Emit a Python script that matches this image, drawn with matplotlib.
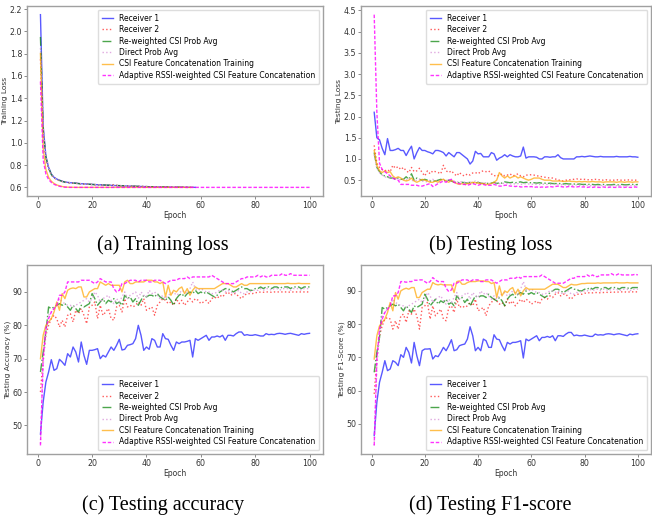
import numpy as np
import matplotlib
matplotlib.use("Agg")
import matplotlib.pyplot as plt

labels = ["Receiver 1", "Receiver 2", "Re-weighted CSI Prob Avg", "Direct Prob Avg",
          "CSI Feature Concatenation Training", "Adaptive RSSI-weighted CSI Feature Concatenation"]

# training loss (most runs stop early)
tr_r1 = [2.15, 1.15, 0.88, 0.78, 0.72, 0.69, 0.675, 0.665, 0.655, 0.648,
         0.645, 0.642, 0.640, 0.638, 0.635, 0.633, 0.632, 0.630, 0.628, 0.627,
         0.625, 0.624, 0.623, 0.622, 0.620, 0.619, 0.618, 0.617, 0.616, 0.615,
         0.614, 0.613, 0.612, 0.611, 0.610, 0.610, 0.609, 0.608, 0.607, 0.607,
         0.606, 0.606, 0.605, 0.605, 0.604, 0.604, 0.603, 0.603, 0.603, 0.602,
         0.602, 0.602, 0.601, 0.601, 0.601, 0.601, 0.601, 0.600]
tr_r2 = [1.75, 1.10, 0.86, 0.77, 0.71, 0.685, 0.670, 0.660, 0.652, 0.646,
         0.643, 0.640, 0.638, 0.636, 0.634, 0.632, 0.630, 0.629, 0.627, 0.626,
         0.625, 0.624, 0.622, 0.621, 0.620, 0.619, 0.620, 0.625, 0.618, 0.616,
         0.615, 0.614, 0.613, 0.612, 0.611, 0.610, 0.609, 0.608, 0.608, 0.607,
         0.606, 0.606, 0.605, 0.605, 0.604, 0.604, 0.603, 0.603, 0.602, 0.602,
         0.602, 0.601, 0.601, 0.601, 0.601, 0.600, 0.600]
tr_rw = [1.95, 1.12, 0.87, 0.775, 0.715, 0.688, 0.672, 0.662, 0.654, 0.647,
         0.644, 0.641, 0.639, 0.637, 0.634, 0.632, 0.631, 0.629, 0.628, 0.626,
         0.625, 0.624, 0.623, 0.622, 0.621, 0.620, 0.619, 0.618, 0.617, 0.616,
         0.615, 0.614, 0.613, 0.612, 0.611, 0.610, 0.609, 0.608, 0.608, 0.607,
         0.606, 0.606, 0.605, 0.605, 0.604, 0.604, 0.603, 0.603, 0.602, 0.602,
         0.602, 0.601, 0.601, 0.601, 0.600, 0.600]
tr_dp = [1.85, 1.13, 0.875, 0.78, 0.718, 0.69, 0.674, 0.664, 0.655, 0.649,
         0.645, 0.642, 0.640, 0.637, 0.635, 0.633, 0.631, 0.630, 0.628, 0.627,
         0.625, 0.624, 0.623, 0.622, 0.621, 0.620, 0.619, 0.618, 0.617, 0.616,
         0.615, 0.614, 0.613, 0.612, 0.611, 0.610, 0.609, 0.608, 0.608, 0.607,
         0.606, 0.606, 0.605, 0.605, 0.604, 0.604, 0.603, 0.603, 0.602, 0.602,
         0.602, 0.601, 0.601, 0.601, 0.600]
tr_fc = [1.80, 0.95, 0.76, 0.69, 0.655, 0.635, 0.622, 0.614, 0.608, 0.604,
         0.602, 0.601, 0.601, 0.600, 0.600, 0.600, 0.600, 0.600, 0.600, 0.600,
         0.600, 0.600, 0.600, 0.600, 0.600, 0.600, 0.600, 0.600, 0.600, 0.600,
         0.600, 0.600, 0.600, 0.600, 0.600, 0.600, 0.600, 0.600, 0.600, 0.600,
         0.600, 0.600, 0.600, 0.600, 0.600, 0.600, 0.600, 0.600, 0.600, 0.600,
         0.600, 0.600, 0.600, 0.600, 0.600, 0.600, 0.600]
tr_ad = [1.55, 0.85, 0.72, 0.67, 0.645, 0.628, 0.617, 0.610, 0.605, 0.602,
         0.601, 0.600, 0.600, 0.600, 0.600, 0.600, 0.600, 0.600, 0.600, 0.600,
         0.600, 0.600, 0.600, 0.600, 0.600, 0.600, 0.600, 0.600, 0.600, 0.600,
         0.600, 0.600, 0.600, 0.600, 0.600, 0.600, 0.600, 0.600, 0.600, 0.600,
         0.600, 0.600, 0.600, 0.600, 0.600, 0.600, 0.600, 0.600, 0.600, 0.600,
         0.600, 0.600, 0.600, 0.600, 0.600, 0.600, 0.600, 0.600, 0.600, 0.600,
         0.600, 0.600, 0.600, 0.600, 0.600, 0.600, 0.600, 0.600, 0.600, 0.600,
         0.600, 0.600, 0.600, 0.600, 0.600, 0.600, 0.600, 0.600, 0.600, 0.600,
         0.600, 0.600, 0.600, 0.600, 0.600, 0.600, 0.600, 0.600, 0.600, 0.600,
         0.600, 0.600, 0.600, 0.600, 0.600, 0.600, 0.600, 0.600, 0.600, 0.600]

# testing loss
tl_r1 = [2.10, 1.50, 1.45, 1.25, 1.10, 1.48, 1.20, 1.20, 1.22, 1.25,
         1.20, 1.20, 1.08, 1.20, 1.30, 1.00, 1.15, 1.27, 1.20, 1.20,
         1.17, 1.15, 1.12, 1.20, 1.20, 1.18, 1.15, 1.07, 1.15, 1.10,
         1.05, 1.15, 1.15, 1.10, 1.05, 1.00, 0.88, 0.95, 1.18, 1.12,
         1.13, 1.05, 1.05, 1.05, 1.15, 1.12, 0.97, 1.02, 1.05, 1.10,
         1.05, 1.10, 1.07, 1.05, 1.05, 1.07, 1.28, 1.02, 1.05, 1.05,
         1.05, 1.04, 1.00, 1.00, 1.05, 1.05, 1.04, 1.05, 1.05, 1.10,
         1.03, 1.00, 1.00, 1.00, 1.00, 1.00, 1.05, 1.05, 1.06, 1.05,
         1.06, 1.07, 1.06, 1.05, 1.05, 1.06, 1.05, 1.05, 1.05, 1.05,
         1.05, 1.06, 1.05, 1.05, 1.05, 1.05, 1.06, 1.05, 1.05, 1.04]
tl_r2 = [1.32, 0.90, 0.80, 0.75, 0.72, 0.75, 0.70, 0.85, 0.78, 0.82,
         0.75, 0.80, 0.72, 0.68, 0.80, 0.70, 0.72, 0.78, 0.68, 0.60,
         0.72, 0.65, 0.72, 0.70, 0.68, 0.65, 0.85, 0.72, 0.68, 0.72,
         0.65, 0.60, 0.68, 0.62, 0.60, 0.65, 0.62, 0.67, 0.68, 0.65,
         0.70, 0.72, 0.70, 0.72, 0.65, 0.60, 0.62, 0.60, 0.65, 0.60,
         0.62, 0.65, 0.60, 0.62, 0.65, 0.60, 0.58, 0.62, 0.62, 0.63,
         0.62, 0.60, 0.60, 0.58, 0.57, 0.56, 0.55, 0.55, 0.53, 0.50,
         0.50, 0.48, 0.50, 0.50, 0.52, 0.52, 0.53, 0.52, 0.52, 0.52,
         0.51, 0.51, 0.51, 0.52, 0.51, 0.51, 0.50, 0.51, 0.50, 0.50,
         0.50, 0.51, 0.50, 0.50, 0.50, 0.51, 0.50, 0.50, 0.50, 0.50]
tl_rw = [1.15, 0.80, 0.70, 0.62, 0.60, 0.58, 0.55, 0.55, 0.52, 0.55,
         0.52, 0.52, 0.58, 0.52, 0.65, 0.50, 0.55, 0.52, 0.50, 0.52,
         0.50, 0.48, 0.48, 0.48, 0.50, 0.52, 0.50, 0.48, 0.50, 0.48,
         0.45, 0.45, 0.44, 0.45, 0.44, 0.43, 0.45, 0.44, 0.43, 0.45,
         0.43, 0.42, 0.43, 0.42, 0.43, 0.45, 0.42, 0.44, 0.43, 0.46,
         0.45, 0.44, 0.45, 0.44, 0.45, 0.46, 0.44, 0.45, 0.44, 0.44,
         0.44, 0.43, 0.44, 0.43, 0.43, 0.42, 0.43, 0.42, 0.42, 0.42,
         0.42, 0.41, 0.42, 0.41, 0.41, 0.41, 0.40, 0.41, 0.40, 0.40,
         0.40, 0.40, 0.40, 0.39, 0.40, 0.39, 0.40, 0.39, 0.39, 0.39,
         0.40, 0.39, 0.39, 0.40, 0.39, 0.39, 0.40, 0.40, 0.39, 0.40]
tl_dp = [1.10, 0.78, 0.68, 0.62, 0.58, 0.56, 0.55, 0.54, 0.55, 0.52,
         0.50, 0.52, 0.50, 0.55, 0.50, 0.48, 0.50, 0.52, 0.48, 0.47,
         0.46, 0.50, 0.52, 0.48, 0.47, 0.50, 0.52, 0.50, 0.48, 0.47,
         0.48, 0.46, 0.45, 0.47, 0.45, 0.44, 0.46, 0.44, 0.48, 0.45,
         0.44, 0.43, 0.44, 0.42, 0.43, 0.42, 0.44, 0.42, 0.43, 0.42,
         0.42, 0.41, 0.42, 0.41, 0.42, 0.40, 0.41, 0.42, 0.41, 0.40,
         0.41, 0.40, 0.40, 0.41, 0.40, 0.40, 0.40, 0.41, 0.40, 0.40,
         0.39, 0.40, 0.39, 0.38, 0.38, 0.38, 0.39, 0.38, 0.38, 0.37,
         0.38, 0.37, 0.38, 0.37, 0.37, 0.38, 0.37, 0.37, 0.37, 0.38,
         0.37, 0.37, 0.38, 0.37, 0.37, 0.37, 0.37, 0.38, 0.37, 0.37]
tl_fc = [1.20, 0.85, 0.72, 0.68, 0.72, 0.68, 0.70, 0.60, 0.55, 0.58,
         0.55, 0.50, 0.48, 0.50, 0.55, 0.48, 0.45, 0.48, 0.52, 0.50,
         0.48, 0.45, 0.45, 0.48, 0.45, 0.50, 0.52, 0.48, 0.45, 0.50,
         0.45, 0.42, 0.40, 0.42, 0.40, 0.42, 0.42, 0.45, 0.44, 0.43,
         0.42, 0.42, 0.40, 0.40, 0.42, 0.45, 0.50, 0.68, 0.60, 0.55,
         0.60, 0.55, 0.58, 0.60, 0.55, 0.58, 0.55, 0.52, 0.50, 0.52,
         0.55, 0.55, 0.55, 0.52, 0.50, 0.50, 0.50, 0.48, 0.48, 0.48,
         0.48, 0.47, 0.47, 0.48, 0.47, 0.47, 0.46, 0.47, 0.46, 0.47,
         0.46, 0.46, 0.47, 0.46, 0.46, 0.46, 0.45, 0.46, 0.46, 0.46,
         0.46, 0.45, 0.46, 0.46, 0.45, 0.46, 0.46, 0.45, 0.46, 0.46]
tl_ad = [4.40, 2.10, 0.90, 0.75, 0.70, 0.65, 0.60, 0.55, 0.52, 0.50,
         0.40, 0.40, 0.40, 0.40, 0.38, 0.38, 0.38, 0.36, 0.36, 0.38,
         0.40, 0.42, 0.35, 0.38, 0.42, 0.45, 0.48, 0.45, 0.50, 0.52,
         0.45, 0.42, 0.42, 0.40, 0.40, 0.38, 0.40, 0.42, 0.40, 0.38,
         0.40, 0.40, 0.38, 0.38, 0.38, 0.40, 0.38, 0.36, 0.36, 0.38,
         0.38, 0.36, 0.36, 0.35, 0.36, 0.34, 0.34, 0.35, 0.34, 0.35,
         0.33, 0.34, 0.33, 0.34, 0.33, 0.34, 0.35, 0.34, 0.35, 0.36,
         0.35, 0.34, 0.34, 0.35, 0.35, 0.34, 0.34, 0.35, 0.34, 0.34,
         0.33, 0.34, 0.33, 0.34, 0.33, 0.33, 0.34, 0.33, 0.33, 0.34,
         0.33, 0.33, 0.34, 0.33, 0.33, 0.34, 0.33, 0.33, 0.34, 0.33]

# testing accuracy (%)
acc_r1 = [47.4, 57.0, 63.0, 66.0, 69.7, 66.5, 67.0, 69.8, 69.0, 68.0,
          71.5, 70.5, 73.5, 72.0, 69.0, 75.0, 71.0, 68.3, 72.5, 72.5,
          72.7, 73.0, 70.0, 71.0, 70.5, 72.0, 73.5, 72.5, 74.0, 75.8,
          72.6, 72.8, 74.0, 74.2, 74.5, 76.0, 80.0, 77.0, 72.5, 73.5,
          72.8, 76.0, 75.5, 73.5, 73.5, 77.5, 76.0, 75.8, 74.0, 72.5,
          75.0, 74.5, 75.0, 75.0, 75.2, 75.5, 70.5, 76.0, 75.5, 76.0,
          76.5, 77.0, 75.5, 76.5, 76.5, 76.8, 76.5, 77.0, 75.5, 77.0,
          77.0, 76.8, 77.5, 78.0, 78.0, 77.0, 77.2, 77.0, 77.0, 77.2,
          77.0, 76.8, 76.8, 77.5, 77.2, 77.3, 77.2, 77.5, 77.6, 77.5,
          77.3, 77.5, 77.6, 77.4, 77.2, 77.0, 77.5, 77.3, 77.5, 77.6]
acc_r2 = [60.0, 70.0, 77.0, 80.0, 82.0, 83.0, 82.0, 79.5, 81.5, 79.5,
          83.0, 83.5, 81.0, 84.5, 83.5, 85.0, 83.0, 80.5, 85.5, 86.0,
          87.0, 82.0, 86.0, 83.0, 84.0, 85.0, 82.0, 81.5, 85.5, 86.0,
          84.0, 88.0, 85.5, 86.0, 85.5, 86.0, 87.0, 86.0, 88.0, 84.5,
          85.0, 85.5, 83.0, 86.0, 87.0, 88.0, 87.5, 86.5, 87.0, 86.0,
          88.0, 86.5, 87.5, 86.0, 87.0, 88.0, 87.0, 88.0, 87.5, 86.5,
          87.0, 87.5, 86.5, 88.0, 88.5, 88.0, 89.0, 88.5, 89.5, 90.0,
          89.0, 89.5, 89.5, 88.5, 88.0, 89.0, 89.5, 89.5, 89.5, 89.8,
          89.8, 90.0, 89.9, 90.0, 90.0, 89.9, 90.0, 90.0, 90.0, 90.0,
          90.0, 90.0, 89.9, 90.0, 90.0, 90.0, 90.0, 90.0, 90.0, 90.0]
acc_rw = [66.0, 72.0, 78.0, 85.5, 85.0, 85.5, 86.0, 86.5, 86.0, 86.5,
          85.5, 84.5, 86.0, 85.0, 84.0, 86.0, 85.5, 86.0, 86.5, 89.5,
          88.0, 86.0, 87.0, 88.0, 86.5, 87.5, 87.0, 88.0, 86.5, 87.0,
          86.0, 89.0, 88.0, 88.5, 87.0, 88.0, 86.0, 87.5, 89.0, 88.5,
          89.0, 89.0, 88.5, 89.5, 88.5, 88.0, 87.5, 88.5, 87.5, 86.0,
          88.0, 89.0, 89.5, 88.5, 89.5, 90.0, 89.5, 90.5, 89.5, 90.0,
          89.5, 90.0, 89.5, 89.0, 88.5, 89.0, 90.0, 90.5, 91.0, 91.0,
          90.5, 90.0, 90.5, 91.0, 91.5, 91.0, 91.0, 90.5, 90.5, 91.0,
          91.0, 91.5, 91.0, 91.5, 91.5, 91.0, 91.5, 91.5, 91.0, 91.5,
          91.5, 91.5, 91.0, 91.5, 91.5, 91.5, 91.0, 91.5, 91.5, 91.5]
acc_dp = [44.5, 68.0, 78.0, 83.0, 84.0, 85.0, 86.0, 88.0, 87.0, 86.5,
          86.0, 86.0, 85.5, 86.0, 86.5, 87.0, 87.5, 88.0, 87.0, 88.0,
          90.0, 89.0, 87.0, 88.0, 88.5, 89.0, 87.5, 86.5, 88.0, 87.0,
          88.5, 90.0, 88.0, 89.0, 89.5, 90.0, 88.0, 90.0, 89.0, 88.5,
          90.5, 89.5, 90.0, 89.0, 88.0, 89.0, 88.0, 89.0, 89.5, 90.0,
          89.0, 89.5, 90.5, 90.0, 89.5, 91.0, 93.0, 91.0, 90.5, 91.0,
          90.5, 90.0, 90.0, 89.5, 89.5, 90.0, 90.5, 90.5, 90.0, 90.5,
          90.0, 89.5, 90.0, 90.5, 89.5, 89.5, 90.0, 90.0, 90.5, 90.5,
          90.5, 91.0, 90.5, 91.0, 91.0, 90.5, 91.0, 91.0, 90.5, 91.0,
          91.0, 91.0, 90.5, 91.0, 91.0, 91.0, 90.5, 91.0, 91.0, 91.0]
acc_fc = [70.0, 77.0, 80.0, 81.0, 82.0, 84.0, 87.0, 84.5, 89.5, 88.0,
          90.5, 91.0, 91.2, 91.0, 91.5, 91.5, 88.5, 88.5, 90.0, 90.5,
          91.0, 91.0, 93.0, 92.5, 92.0, 92.5, 92.0, 92.0, 92.0, 92.0,
          90.0, 93.0, 93.5, 92.5, 92.5, 93.0, 93.0, 93.0, 93.0, 93.5,
          93.5, 93.5, 93.0, 93.0, 92.5, 93.0, 88.5, 92.0, 89.0, 90.5,
          90.0, 91.0, 91.5, 89.5, 91.0, 89.0, 90.5, 91.5, 91.0, 91.0,
          91.0, 91.0, 91.0, 91.0, 91.0, 91.5, 92.0, 92.5, 92.5, 92.5,
          92.0, 91.5, 91.5, 92.0, 92.5, 92.0, 92.0, 92.5, 92.5, 92.5,
          92.5, 92.5, 92.5, 92.5, 92.5, 92.5, 92.5, 92.5, 92.5, 92.5,
          92.5, 92.6, 92.5, 92.5, 92.5, 92.6, 92.5, 92.5, 92.5, 92.5]
acc_ad = [44.0, 70.0, 79.0, 82.0, 84.0, 85.0, 86.0, 89.0, 89.0, 90.0,
          93.0, 93.0, 93.0, 93.0, 93.0, 93.5, 93.5, 93.5, 93.5, 93.0,
          92.5, 93.0, 94.0, 93.5, 93.0, 93.0, 93.0, 91.0, 90.0, 90.5,
          92.5, 92.5, 93.0, 93.5, 93.5, 93.5, 93.0, 93.5, 93.5, 93.5,
          93.0, 93.0, 93.5, 93.5, 93.5, 93.0, 92.5, 93.0, 93.5, 93.5,
          93.5, 94.0, 94.0, 94.0, 94.5, 94.0, 94.5, 94.5, 94.5, 94.5,
          94.5, 94.5, 94.5, 95.0, 94.5, 94.0, 93.5, 93.0, 92.5, 92.5,
          92.5, 92.5, 93.0, 93.5, 94.0, 94.0, 94.5, 94.5, 94.5, 94.5,
          95.0, 94.5, 95.0, 94.5, 94.5, 95.0, 95.0, 95.0, 95.0, 95.5,
          95.0, 95.0, 95.5, 95.0, 95.0, 95.0, 95.0, 95.0, 95.0, 95.0]

# testing F1-score (%)
f1_r1 = [46.5, 56.5, 62.5, 65.5, 69.0, 66.0, 66.5, 69.0, 68.5, 67.5,
         70.8, 70.0, 73.0, 71.5, 68.3, 74.5, 70.5, 67.5, 72.0, 72.5,
         72.5, 72.6, 69.5, 70.5, 70.2, 71.5, 73.0, 72.0, 73.5, 75.3,
         72.0, 72.3, 73.5, 73.8, 74.0, 75.5, 79.2, 76.5, 72.0, 73.0,
         72.0, 75.5, 75.0, 73.0, 73.0, 76.8, 75.5, 75.3, 73.5, 72.0,
         74.5, 74.0, 74.5, 74.5, 74.7, 75.0, 69.8, 75.5, 75.0, 75.5,
         76.0, 76.5, 75.0, 76.0, 76.0, 76.3, 76.0, 76.5, 75.0, 76.5,
         76.5, 76.3, 77.0, 77.5, 77.5, 76.5, 76.7, 76.5, 76.5, 76.7,
         76.5, 76.3, 76.3, 77.0, 76.7, 76.8, 76.7, 77.0, 77.1, 77.0,
         76.8, 77.0, 77.1, 76.9, 76.7, 76.5, 77.0, 76.8, 77.0, 77.1]
f1_r2 = [59.0, 69.5, 76.5, 79.5, 81.5, 82.0, 81.5, 78.5, 81.0, 78.5,
         82.5, 83.0, 80.5, 84.0, 83.0, 84.5, 82.5, 78.5, 85.0, 85.5,
         86.5, 81.5, 85.5, 82.5, 83.5, 84.5, 81.5, 81.0, 85.0, 85.5,
         83.5, 87.5, 85.0, 85.5, 85.0, 85.5, 86.5, 85.5, 87.5, 84.0,
         84.5, 85.0, 82.5, 85.5, 86.5, 87.5, 87.0, 86.0, 86.5, 85.5,
         87.5, 86.0, 87.0, 85.5, 86.5, 87.5, 86.5, 87.5, 87.0, 86.0,
         86.5, 87.0, 86.0, 87.5, 88.0, 87.5, 88.5, 88.0, 89.0, 89.5,
         88.5, 89.0, 89.0, 88.0, 87.5, 88.5, 89.0, 89.0, 89.0, 89.3,
         89.3, 89.5, 89.4, 89.5, 89.5, 89.4, 89.5, 89.6, 89.5, 89.6,
         89.6, 89.7, 89.6, 89.7, 89.7, 89.6, 89.7, 89.7, 89.7, 89.7]
f1_rw = [65.5, 71.5, 76.0, 85.0, 84.5, 85.0, 85.5, 86.0, 85.5, 86.0,
         85.0, 84.0, 85.5, 84.5, 83.5, 85.5, 85.0, 85.5, 86.0, 89.0,
         87.5, 85.5, 86.5, 87.5, 86.0, 87.0, 86.5, 87.5, 86.0, 86.5,
         85.5, 88.5, 87.5, 88.0, 86.5, 87.5, 85.5, 87.0, 88.5, 88.0,
         88.5, 88.5, 88.0, 89.0, 88.0, 87.5, 87.0, 88.0, 87.0, 85.5,
         87.5, 88.5, 89.0, 88.0, 89.0, 89.5, 89.0, 90.0, 89.0, 89.5,
         89.0, 89.5, 89.0, 88.5, 88.0, 88.5, 89.5, 90.0, 90.5, 90.5,
         90.0, 89.5, 90.0, 90.5, 91.0, 90.5, 90.5, 90.0, 90.0, 90.5,
         90.5, 91.0, 90.5, 91.0, 91.0, 90.5, 91.0, 91.0, 90.5, 91.0,
         91.0, 91.0, 90.5, 91.0, 91.0, 91.0, 90.5, 91.0, 91.0, 91.0]
f1_dp = [43.5, 67.0, 77.5, 82.5, 83.5, 84.5, 85.5, 87.5, 86.5, 86.0,
         85.5, 85.5, 85.0, 85.5, 86.0, 86.5, 87.0, 87.5, 86.5, 87.5,
         89.5, 88.5, 86.5, 87.5, 88.0, 88.5, 87.0, 86.0, 87.5, 86.5,
         88.0, 89.5, 87.5, 88.5, 89.0, 89.5, 87.5, 89.5, 88.5, 88.0,
         90.0, 89.0, 89.5, 88.5, 87.5, 88.5, 87.5, 88.5, 89.0, 89.5,
         88.5, 89.0, 90.0, 89.5, 89.0, 90.5, 92.8, 90.5, 90.0, 90.5,
         90.0, 89.5, 89.5, 89.0, 89.0, 89.5, 90.0, 90.0, 89.5, 90.0,
         89.5, 89.0, 89.5, 90.0, 89.0, 89.0, 89.5, 89.5, 90.0, 90.0,
         90.0, 90.5, 90.0, 90.5, 90.5, 90.0, 90.5, 90.5, 90.0, 90.5,
         90.5, 90.5, 90.0, 90.5, 90.5, 90.5, 90.0, 90.5, 90.5, 90.5]
f1_fc = [69.5, 76.5, 79.5, 80.5, 81.5, 83.5, 86.5, 84.0, 89.5, 87.5,
         90.0, 90.5, 90.8, 90.5, 91.0, 91.0, 88.0, 88.0, 89.5, 90.0,
         90.5, 90.5, 92.5, 92.0, 91.8, 92.0, 91.8, 91.8, 91.8, 91.8,
         89.5, 92.8, 93.0, 92.0, 92.0, 92.5, 92.8, 92.8, 92.8, 93.0,
         93.0, 93.0, 92.8, 92.8, 92.2, 92.5, 88.0, 91.5, 88.5, 90.0,
         89.5, 90.5, 91.0, 89.0, 90.5, 88.5, 90.0, 91.0, 90.5, 90.5,
         90.5, 90.5, 90.5, 90.5, 90.5, 91.0, 91.5, 92.0, 92.0, 92.0,
         91.5, 91.0, 91.0, 91.5, 92.0, 91.8, 91.8, 92.0, 92.2, 92.2,
         92.3, 92.3, 92.3, 92.3, 92.4, 92.3, 92.4, 92.4, 92.4, 92.4,
         92.4, 92.5, 92.4, 92.4, 92.4, 92.5, 92.4, 92.4, 92.4, 92.4]
f1_ad = [43.5, 69.5, 78.5, 81.5, 83.5, 84.5, 85.5, 88.5, 88.5, 89.5,
         92.8, 92.8, 92.6, 92.8, 92.8, 93.2, 93.2, 93.3, 93.3, 92.8,
         92.3, 92.8, 94.0, 93.3, 92.8, 92.8, 92.8, 90.8, 89.8, 90.3,
         92.3, 92.3, 92.8, 93.3, 93.3, 93.3, 92.8, 93.3, 93.3, 93.3,
         92.8, 92.8, 93.3, 93.3, 93.3, 92.8, 92.3, 92.8, 93.3, 93.3,
         93.3, 93.8, 93.8, 93.8, 94.3, 93.8, 94.3, 94.3, 94.3, 94.3,
         94.3, 94.3, 94.3, 94.8, 94.3, 93.8, 93.3, 92.8, 92.3, 92.3,
         92.3, 92.3, 92.8, 93.3, 93.8, 93.8, 94.3, 94.3, 94.3, 94.3,
         94.8, 94.3, 94.8, 94.3, 94.3, 94.8, 94.8, 94.8, 94.8, 95.2,
         94.8, 94.8, 95.2, 94.8, 94.8, 94.8, 94.8, 94.8, 95.0, 94.8]

colors = ["blue", "red", "green", "plum", "orange", "magenta"]
styles = ["-", ":", "-.", ":", "-", (0, (2.5, 1.3))]
alphas = [0.65, 0.65, 0.7, 0.9, 0.7, 0.8]

panels = [
    ([tr_r1, tr_r2, tr_rw, tr_dp, tr_fc, tr_ad], "Training Loss", "upper right", "(a) Training loss"),
    ([tl_r1, tl_r2, tl_rw, tl_dp, tl_fc, tl_ad], "Testing Loss", "upper right", "(b) Testing loss"),
    ([acc_r1, acc_r2, acc_rw, acc_dp, acc_fc, acc_ad], "Testing Accuracy (%)", "lower right", "(c) Testing accuracy"),
    ([f1_r1, f1_r2, f1_rw, f1_dp, f1_fc, f1_ad], "Testing F1-Score (%)", "lower right", "(d) Testing F1-score"),
]

# axes boxes in figure fractions (left, bottom, width, height)
boxes = [(0.0414, 0.6252, 0.454, 0.3633), (0.5537, 0.6252, 0.4448, 0.3633),
         (0.0414, 0.1319, 0.454, 0.3614), (0.5537, 0.1319, 0.4448, 0.3614)]
caption_xy = [(0.25, 0.532), (0.752, 0.532), (0.25, 0.034), (0.752, 0.034)]

fig = plt.figure(figsize=(6.52, 5.23), dpi=100)
for (series, ylab, loc, cap), box, cxy in zip(panels, boxes, caption_xy):
    ax = fig.add_axes(box)
    for vals, lab, c, ls, a in zip(series, labels, colors, styles, alphas):
        ep = np.arange(1, len(vals) + 1)
        ax.plot(ep, vals, color=c, linestyle=ls, alpha=a, linewidth=1, label=lab)
    ax.set_xlabel("Epoch", fontsize=5.5, labelpad=1, color="#333333")
    ax.set_ylabel(ylab, fontsize=5.4, labelpad=1, color="#333333")
    ax.tick_params(labelsize=5.7, length=2, width=0.6, pad=1.5, colors="#777777", labelcolor="#333333")
    for sp in ax.spines.values():
        sp.set_color("#a0a0a0")
        sp.set_linewidth(1.0)
    ax.legend(loc=loc, fontsize=5.5, handlelength=1.5, labelspacing=0.32,
              borderpad=0.5, handletextpad=0.8, framealpha=1, edgecolor="#dddddd")
    fig.text(cxy[0], cxy[1], cap, ha="center", va="center",
             family="Liberation Serif", fontsize=14.5)

fig.savefig("out.png", dpi=100)
